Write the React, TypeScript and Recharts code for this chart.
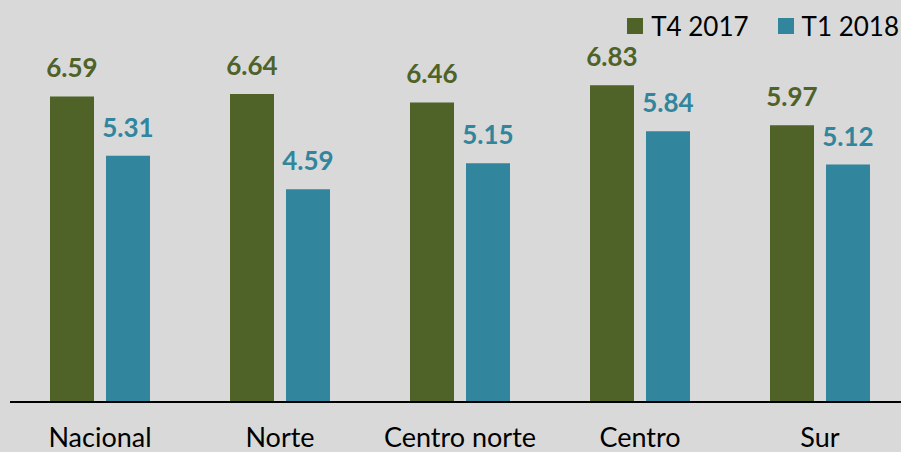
import { BarChart, Bar, XAxis, YAxis, LabelList } from 'recharts'

const regions = ['Nacional', 'Norte', 'Centro norte', 'Centro', 'Sur']
const t4_2017 = [6.59, 6.64, 6.46, 6.83, 5.97]
const t1_2018 = [5.31, 4.59, 5.15, 5.84, 5.12]
const seriesNames = ['T4 2017', 'T1 2018']

const GREEN = '#4f6228'
const TEAL = '#31859c'
const seriesColors = [GREEN, TEAL]
const FONT = 'Lato, "Open Sans", sans-serif'

const data = regions.map((region, i) => ({
  region,
  t4: t4_2017[i],
  t1: t1_2018[i],
}))

// legend drawn as a plain overlay so it doesn't eat into the plot area
function LegendBox() {
  return (
    <div
      style={{
        position: 'absolute',
        top: 11,
        right: 2,
        display: 'flex',
        fontFamily: FONT,
        fontSize: 26,
        color: '#000',
        lineHeight: '30px',
      }}
    >
      {seriesNames.map((name, i) => (
        <div key={name} style={{ display: 'flex', alignItems: 'center', marginLeft: 29 }}>
          <span style={{ width: 16, height: 16, background: seriesColors[i], display: 'inline-block', marginRight: 8 }} />
          <span>{name}</span>
        </div>
      ))}
    </div>
  )
}

export default function App() {
  return (
    <div style={{ position: 'absolute', left: 0, top: 0, width: 901, height: 452, overflow: 'hidden', background: '#d9d9d9' }}>
      <BarChart
        width={910}
        height={452}
        data={data}
        margin={{ top: 31, right: 0, bottom: 0, left: 10 }}
        barSize={44}
        barGap={12}
      >
        <XAxis
          dataKey="region"
          height={50}
          axisLine={{ stroke: '#000', strokeWidth: 2 }}
          tickLine={false}
          tickSize={0}
          tickMargin={26}
          interval={0}
          tick={{ fill: '#000', fontSize: 27, fontFamily: FONT }}
        />
        <YAxis hide domain={[0, 8]} />
        <Bar dataKey="t4" name={seriesNames[0]} fill={GREEN} isAnimationActive={false}>
          <LabelList dataKey="t4" position="top" offset={19} fill={GREEN} fontSize={26} fontWeight="bold" fontFamily={FONT} />
        </Bar>
        <Bar dataKey="t1" name={seriesNames[1]} fill={TEAL} isAnimationActive={false}>
          <LabelList dataKey="t1" position="top" offset={19} fill={TEAL} fontSize={26} fontWeight="bold" fontFamily={FONT} />
        </Bar>
      </BarChart>
      <LegendBox />
    </div>
  )
}
